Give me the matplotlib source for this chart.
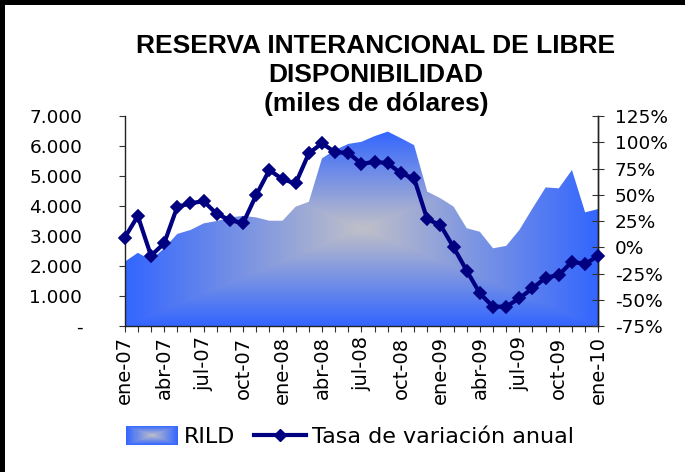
import numpy as np
import matplotlib
matplotlib.use("Agg")
import matplotlib.pyplot as plt
from matplotlib.patches import Rectangle, Polygon, Patch
from matplotlib.lines import Line2D
from matplotlib.legend_handler import HandlerBase
from matplotlib.ticker import FuncFormatter

# datos: enero 2007 - enero 2010 (mensual)
meses_abr = ["ene", "feb", "mar", "abr", "may", "jun", "jul", "ago", "sep", "oct", "nov", "dic"]
etiquetas = [f"{meses_abr[i % 12]}-{7 + i // 12:02d}" for i in range(37)]

rild = [2140, 2440, 2200, 2590, 3070, 3200, 3420, 3500, 3620, 3670, 3620, 3510,
        3510, 3980, 4140, 5590, 5870, 6070, 6140, 6330, 6480, 6260, 6030, 4480,
        4260, 3980, 3260, 3140, 2590, 2670, 3200, 3920, 4620, 4590, 5200, 3790,
        3900]

tasa = [9.1, 29.8, -8.0, 3.7, 38.6, 41.8, 44.0, 31.7, 26.0, 22.8, 49.8, 73.6,
        64.7, 60.9, 89.5, 99.0, 90.4, 90.0, 79.3, 81.5, 80.0, 70.4, 65.6, 26.6,
        21.2, 0.0, -22.3, -43.9, -56.6, -56.6, -48.6, -39.1, -29.0, -26.4, -13.7,
        -16.0, -8.0]

azul = np.array([0x33, 0x66, 0xFF]) / 255
gris = np.array([0xC0, 0xC0, 0xC8]) / 255
navy = "#000080"

x = np.arange(len(rild))

fig = plt.figure(figsize=(6.85, 4.72), dpi=100)
ax = fig.add_axes([0.182, 0.3093, 0.6914, 0.4449])
ax2 = ax.twinx()

# area con degradado rectangular desde el centro
ymax = max(rild)
ny, nx = 200, 300
gx = np.abs(np.linspace(-1, 1, nx))
gy = np.abs(np.linspace(-1, 1, ny))
t = np.maximum(gx[None, :], gy[:, None])
img = gris[None, None, :] * (1 - t[..., None]) + azul[None, None, :] * t[..., None]
im = ax.imshow(img, extent=[x[0], x[-1], 0, ymax], aspect="auto",
               origin="lower", interpolation="bilinear", zorder=1)
verts = list(zip(x, rild)) + [(x[-1], 0), (x[0], 0)]
poly = Polygon(verts, closed=True, facecolor="none", edgecolor="none")
ax.add_patch(poly)
im.set_clip_path(poly)

ax.set_xlim(x[0], x[-1])
ax.set_ylim(0, 7000)
ax.set_yticks(range(0, 7001, 1000))
ax.yaxis.set_major_formatter(FuncFormatter(
    lambda v, p: "-" if v == 0 else f"{int(v):,}".replace(",", ".")))
ax.set_xticks(x)
ax.set_xticklabels([e if i % 3 == 0 else "" for i, e in enumerate(etiquetas)],
                   rotation=90, fontsize=14)
ax.tick_params(axis="x", direction="out", length=4.5, pad=3, color="#333333")
ax.tick_params(axis="y", direction="out", length=4.5, pad=26, labelsize=13.3,
               color="#333333")

# linea tasa de variacion
ax2.plot(x, tasa, color=navy, lw=3, marker="D", markersize=6,
         markeredgewidth=1.2, clip_on=False, zorder=5)
ax2.set_ylim(-75, 125)
ax2.set_yticks(range(-75, 126, 25))
ax2.yaxis.set_major_formatter(FuncFormatter(lambda v, p: f"{int(v)}%"))
ax2.tick_params(axis="y", direction="inout", length=8, pad=8, labelsize=13.3,
                color="#333333")

for a in (ax, ax2):
    a.spines["top"].set_visible(False)
    for s in ("left", "right", "bottom"):
        a.spines[s].set_color("#222222")
        a.spines[s].set_linewidth(1)
ax2.spines["left"].set_visible(False)
ax2.spines["bottom"].set_visible(False)

fig.text(376 / 685, 1 - 75 / 472,
         "RESERVA INTERANCIONAL DE LIBRE\nDISPONIBILIDAD\n(miles de dólares)",
         ha="center", va="center", fontsize=19, fontweight="bold",
         family="Liberation Sans", linespacing=1.25)


class HandlerDegradado(HandlerBase):
    def create_artists(self, legend, orig_handle, xdescent, ydescent,
                       width, height, fontsize, trans):
        h = height * 1.25
        cx = -xdescent + width / 2
        cy = -ydescent + height / 2
        arts = []
        n = 25
        for i in range(n):
            k = 1 - i / n
            c = gris * (1 - k) + azul * k
            dx, dy = width / 2 * k, h / 2 * k
            arts.append(Rectangle((cx - dx, cy - dy), 2 * dx, 2 * dy,
                                  facecolor=c, edgecolor="none", transform=trans))
        return arts


h_rild = Patch(label="RILD")
h_tasa = Line2D([], [], color=navy, lw=3, marker="D", markersize=6,
                label="Tasa de variación anual")
fig.legend(handles=[h_rild, h_tasa], loc="center",
           bbox_to_anchor=(350 / 685, 1 - 437 / 472), ncol=2, frameon=False,
           fontsize=16, handlelength=2.35, handletextpad=0.25,
           columnspacing=0.85, handler_map={Patch: HandlerDegradado()})

# borde negro superior e izquierdo
fig.patches.append(Rectangle((0, 1 - 5 / 472), 1, 5 / 472, transform=fig.transFigure,
                             facecolor="black", edgecolor="none"))
fig.patches.append(Rectangle((0, 0), 5 / 685, 1, transform=fig.transFigure,
                             facecolor="black", edgecolor="none"))

fig.savefig("out.png", dpi=100)
